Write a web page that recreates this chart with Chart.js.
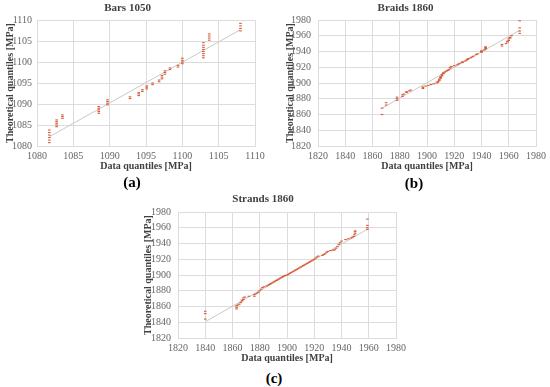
<!DOCTYPE html>
<html>
<head>
<meta charset="utf-8">
<script src="https://cdn.jsdelivr.net/npm/chart.js"></script>
<style>
body { margin: 0; background: #fff; width: 550px; height: 387px; position: relative; overflow: hidden; }
canvas { position: absolute; }
.cap { position: absolute; font: bold 15px "Liberation Serif", serif; color: #000; transform: translate(-50%, -50%); }
</style>
</head>
<body>
<canvas id="barsChart" width="275" height="176" style="left:0;top:0"></canvas>
<canvas id="braidsChart" width="275" height="176" style="left:275px;top:0"></canvas>
<canvas id="strandsChart" width="290" height="178" style="left:130px;top:190px"></canvas>
<div class="cap" style="left:132px;top:182px">(a)</div>
<div class="cap" style="left:414px;top:183px">(b)</div>
<div class="cap" style="left:274px;top:378px">(c)</div>
<script>
// Bars 1050 : data quantiles vs theoretical quantiles
const barsX = [1081.7, 1081.7, 1081.7, 1081.7, 1081.7, 1081.7,
    1082.7, 1082.7, 1082.7, 1082.7, 1082.7,
    1083.5, 1083.5, 1083.5,
    1088.5, 1088.5, 1088.5, 1088.5, 1088.5,
    1089.7, 1089.7, 1089.7, 1089.7,
    1092.8, 1092.8,
    1094.0, 1094.0, 1094.0,
    1094.5, 1094.5,
    1095.1, 1095.1, 1095.1,
    1095.9, 1095.9,
    1096.8, 1096.8,
    1097.2, 1097.2, 1097.2,
    1097.6, 1097.6, 1097.6,
    1098.3, 1098.3,
    1099.4, 1099.4,
    1100.0, 1100.0, 1100.0, 1100.0,
    1102.9, 1102.9, 1102.9, 1102.9, 1102.9, 1102.9, 1102.9, 1102.9,
    1103.7, 1103.7, 1103.7, 1103.7,
    1108.0, 1108.0, 1108.0, 1108.0];
const barsY = [1080.8, 1081.4, 1082.0, 1082.6, 1083.2, 1083.8,
    1084.6, 1085.0, 1085.4, 1085.8, 1086.2,
    1086.6, 1087.0, 1087.4,
    1087.8, 1088.2, 1088.6, 1089.0, 1089.4,
    1089.8, 1090.2, 1090.6, 1091.0,
    1091.3, 1091.7,
    1092.0, 1092.4, 1092.7,
    1093.0, 1093.4,
    1093.6, 1094.0, 1094.3,
    1094.6, 1095.0,
    1095.3, 1095.7,
    1096.0, 1096.4, 1096.8,
    1097.1, 1097.5, 1097.9,
    1098.2, 1098.6,
    1098.8, 1099.2,
    1099.6, 1100.0, 1100.4, 1100.9,
    1101.0, 1101.5, 1102.0, 1102.5, 1103.0, 1103.5, 1104.0, 1104.6,
    1105.2, 1105.7, 1106.2, 1106.7,
    1107.4, 1108.0, 1108.6, 1109.2];
const barsTrendX = [1081.7, 1108.0];
const barsTrendY = [1082.2, 1107.7];

// Braids 1860
const braidsX = [1867, 1867, 1870, 1870, 1878, 1878, 1878, 1882, 1882, 1883,
    1885, 1885, 1887, 1888, 1897, 1897, 1897, 1899, 1901, 1903, 1905, 1907,
    1908, 1908, 1909, 1909, 1909, 1910, 1910, 1910, 1911, 1911, 1911, 1912, 1912,
    1913, 1914, 1915, 1916, 1917, 1917, 1918, 1920, 1922, 1923, 1924, 1926, 1926,
    1928, 1929, 1930, 1930, 1932, 1933, 1934, 1936, 1937, 1940, 1940, 1940, 1942,
    1943, 1943, 1943, 1943, 1955, 1955, 1958, 1959, 1959, 1960, 1960, 1961, 1961,
    1962, 1968, 1968, 1968, 1968];
const braidsY = [1860, 1868, 1872, 1875, 1878, 1880, 1882, 1883, 1885, 1886,
    1888, 1889, 1890, 1891, 1893, 1894, 1895, 1896, 1897, 1898, 1899, 1900,
    1901, 1902, 1903, 1904, 1905, 1906, 1907, 1908, 1909, 1910, 1911, 1912, 1913,
    1914, 1915, 1916, 1917, 1919, 1920, 1921, 1922, 1923, 1924, 1925, 1926, 1927,
    1928, 1929, 1930, 1931, 1932, 1933, 1934, 1936, 1937, 1939, 1940, 1941, 1942,
    1943, 1944, 1945, 1946, 1947, 1949, 1950, 1952, 1953, 1954, 1956, 1957, 1958,
    1960, 1963, 1966, 1970, 1979];
const braidsTrendX = [1867, 1968];
const braidsTrendY = [1868, 1967];

// Strands 1860
const strandsX = [1840, 1840, 1840, 1863, 1863, 1863, 1864, 1865, 1866, 1867, 1867,
    1868, 1868, 1869, 1872, 1876, 1876, 1877, 1878, 1879, 1880, 1881, 1882, 1883,
    1885, 1886, 1887, 1888, 1889, 1890, 1891, 1892, 1893, 1894, 1895, 1896, 1897,
    1898, 1899, 1900, 1901, 1902, 1903, 1904, 1905, 1906, 1907, 1908, 1909, 1910,
    1911, 1912, 1913, 1914, 1915, 1916, 1917, 1918, 1919, 1920, 1921, 1922, 1923,
    1926, 1927, 1928, 1929, 1930, 1932, 1934, 1935, 1936, 1937, 1938, 1939, 1940,
    1943, 1945, 1947, 1948, 1949, 1949.5, 1950, 1950, 1950,
    1959, 1959, 1959, 1959];
const strandsY = [1844, 1851, 1854, 1857, 1859, 1861, 1862, 1863, 1865, 1867, 1868,
    1869, 1871, 1872, 1873, 1873, 1875, 1876, 1877, 1878, 1880, 1882, 1884, 1885,
    1886, 1887, 1888, 1889, 1890, 1891, 1892, 1893, 1894, 1895, 1896, 1897, 1898,
    1899, 1899.5, 1900, 1901, 1902, 1903, 1904, 1905, 1906, 1907, 1908, 1909, 1910,
    1911, 1912, 1913, 1914, 1915, 1916, 1917, 1918, 1919, 1920, 1921.5, 1923, 1924,
    1925, 1926, 1927, 1929, 1930, 1931, 1931.5, 1932, 1934, 1936, 1939, 1941, 1943,
    1945, 1946, 1947, 1948, 1949, 1951, 1953, 1955, 1956,
    1958, 1960, 1963, 1971];
const strandsTrendX = [1840, 1959];
const strandsTrendY = [1840.6, 1958];

const red = '#d85a35';
const serif = '"Liberation Serif", "Times New Roman", serif';

function qqChart(id, name, xs, ys, tx, ty, min, max, step, box) {
    const pts = xs.map((x, i) => ({ x: x, y: ys[i] }));
    const trend = tx.map((x, i) => ({ x: x, y: ty[i] }));
    const tickFont = { family: serif, size: 10 };
    const axisTitle = (text, pad) => ({
        display: true, text: text, color: '#404040',
        font: { family: serif, size: 10, weight: 'bold' }, padding: pad
    });
    return new Chart(document.getElementById(id), {
        type: 'scatter',
        data: {
            datasets: [
                { data: pts, pointStyle: 'line', pointRadius: 1.3, borderWidth: 1.1, borderColor: red, backgroundColor: red },
                { data: trend, showLine: true, pointRadius: 0, borderColor: '#c8c8c8', borderWidth: 1 }
            ]
        },
        options: {
            responsive: false,
            animation: false,
            layout: { padding: { right: box.right, bottom: 0, top: 0, left: 0 } },
            plugins: {
                legend: { display: false },
                tooltip: { enabled: false },
                title: {
                    display: true, text: name, color: '#404040',
                    font: { family: serif, size: 11, weight: 'bold' },
                    padding: { top: box.titleTop, bottom: box.titleBottom }
                }
            },
            scales: {
                x: {
                    type: 'linear', min: min, max: max,
                    ticks: { stepSize: step, callback: v => v, color: '#666666', font: tickFont, padding: 4, maxRotation: 0 },
                    grid: { color: '#dcdcdc', drawTicks: false },
                    border: { color: '#dcdcdc' },
                    title: axisTitle('Data quantiles [MPa]', { top: 0, bottom: 4 }),
                    afterFit: s => { s.height = box.xh; }
                },
                y: {
                    type: 'linear', min: min, max: max,
                    ticks: { stepSize: step, callback: v => v, color: '#666666', font: tickFont, padding: box.yPad },
                    grid: { color: '#dcdcdc', drawTicks: false },
                    border: { color: '#dcdcdc' },
                    title: axisTitle('Theoretical quantiles [MPa]', { top: box.yTitle, bottom: 0 }),
                    afterFit: s => { s.width = box.yw; }
                }
            }
        }
    });
}

qqChart('barsChart', 'Bars 1050', barsX, barsY, barsTrendX, barsTrendY, 1080, 1110, 5,
    { right: 20, titleTop: 2, titleBottom: 4.8, xh: 30, yw: 37, yTitle: 4, yPad: 5 });
qqChart('braidsChart', 'Braids 1860', braidsX, braidsY, braidsTrendX, braidsTrendY, 1820, 1980, 20,
    { right: 14, titleTop: 2, titleBottom: 4.8, xh: 30, yw: 43, yTitle: 9, yPad: 7 });
qqChart('strandsChart', 'Strands 1860', strandsX, strandsY, strandsTrendX, strandsTrendY, 1820, 1980, 20,
    { right: 24, titleTop: 3, titleBottom: 5.8, xh: 30, yw: 48, yTitle: 12, yPad: 7 });
</script>
</body>
</html>
